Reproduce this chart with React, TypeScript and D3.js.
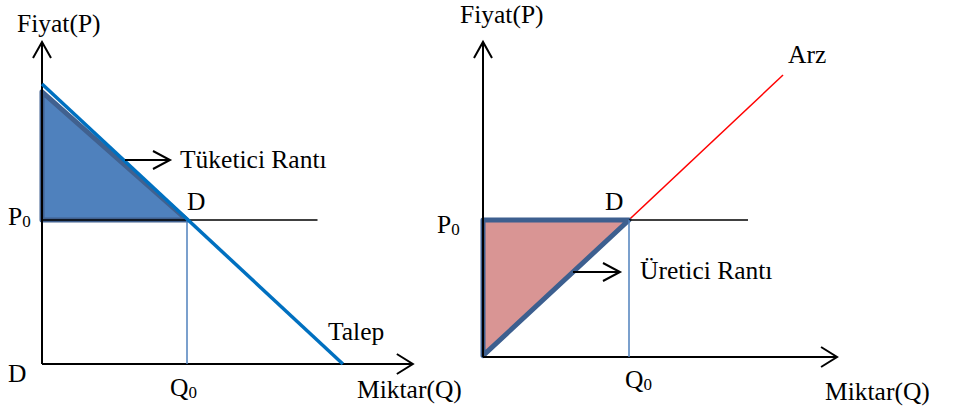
import React from "react";
import * as d3 from "d3";

// ---- Data (abstract units: price P, quantity Q) ----
const equilibrium = { q: 4, p: 5 }; // Q0, P0
// left panel: demand curve (Talep)
const demandLine = [
  { q: 0, p: 9.72 },
  { q: 8.3, p: 0 },
];
const consumerSurplus = [
  { q: 0, p: 9.45 },
  { q: 4, p: 5 },
  { q: 0, p: 5 },
];
const leftAxisMax = { q: 10.23, p: 11.18 };
const leftPriceLineEnd = 7.6;

// right panel: supply curve (Arz)
const supplyLine = [
  { q: 0, p: 0 },
  { q: 8.22, p: 10.29 },
];
const producerSurplus = [
  { q: 0, p: 5 },
  { q: 4, p: 5 },
  { q: 0, p: 0.05 },
];
const rightAxisMax = { q: 9.7, p: 11.5 };
const rightPriceLineEnd = 7.26;

const labels = {
  price: "Fiyat(P)",
  quantity: "Miktar(Q)",
  demand: "Talep",
  supply: "Arz",
  consumer: "Tüketici Rantı",
  producer: "Üretici Rantı",
  point: "D",
};

const FONT = "'Liberation Serif', 'Times New Roman', serif";
const FS = 25.5;

function Sub({ x, y, main, sub, anchor = "start" }: any) {
  return (
    <text x={x} y={y} fontFamily={FONT} fontSize={FS} textAnchor={anchor} fill="#000">
      {main}
      <tspan fontSize={17} dy={2}>
        {sub}
      </tspan>
    </text>
  );
}

function Txt({ x, y, children, anchor = "start" }: any) {
  return (
    <text x={x} y={y} fontFamily={FONT} fontSize={FS} textAnchor={anchor} fill="#000">
      {children}
    </text>
  );
}

export default function App() {
  // Left scales
  const lx = d3.scaleLinear().domain([0, 10]).range([42, 404.5]);
  const ly = d3.scaleLinear().domain([0, 10]).range([364, 76]);
  // Right scales
  const rx = d3.scaleLinear().domain([0, 10]).range([483, 848]);
  const ry = d3.scaleLinear().domain([0, 10]).range([357, 83]);

  const lLine = d3
    .line<{ q: number; p: number }>()
    .x((d) => lx(d.q))
    .y((d) => ly(d.p));
  const rLine = d3
    .line<{ q: number; p: number }>()
    .x((d) => rx(d.q))
    .y((d) => ry(d.p));

  const arrowUp = (x: number, y: number) =>
    `M${x - 9},${y + 16} L${x},${y} L${x + 9},${y + 16}`;
  const arrowRight = (x: number, y: number) =>
    `M${x - 16},${y - 10} L${x},${y} L${x - 16},${y + 10}`;
  const smallArrow = (x1: number, x2: number, y: number) =>
    `M${x1},${y} L${x2},${y} M${x2 - 17},${y - 9} L${x2},${y} L${x2 - 17},${y + 9}`;

  const lq0 = lx(equilibrium.q);
  const lp0 = ly(equilibrium.p);
  const rq0 = rx(equilibrium.q);
  const rp0 = ry(equilibrium.p);

  return (
    <svg
      width={970}
      height={412}
      style={{ position: "absolute", left: 0, top: 0, background: "#fff" }}
    >
      {/* ---------- LEFT PANEL ---------- */}
      <path
        d={lLine(consumerSurplus as any) + "Z"}
        fill="#4F81BD"
        stroke="#41618F"
        strokeWidth={5}
        strokeLinejoin="round"
      />
      {/* axes */}
      <line x1={lx(0)} y1={ly(0)} x2={lx(0)} y2={ly(leftAxisMax.p)} stroke="#000" strokeWidth={2} />
      <path d={arrowUp(lx(0), ly(leftAxisMax.p))} fill="none" stroke="#000" strokeWidth={2} />
      <line x1={lx(0)} y1={ly(0)} x2={lx(leftAxisMax.q)} y2={ly(0)} stroke="#000" strokeWidth={2} />
      <path d={arrowRight(lx(leftAxisMax.q), ly(0))} fill="none" stroke="#000" strokeWidth={2} />
      {/* P0 line */}
      <line x1={lx(0)} y1={lp0} x2={lx(leftPriceLineEnd)} y2={lp0} stroke="#000" strokeWidth={1.5} />
      {/* Q0 line */}
      <line x1={lq0} y1={lp0} x2={lq0} y2={ly(0)} stroke="#4F81BD" strokeWidth={1.5} />
      {/* demand */}
      <path d={lLine(demandLine as any) || ""} fill="none" stroke="#0070C0" strokeWidth={3.5} />
      <path d={smallArrow(125, 170, 160)} fill="none" stroke="#000" strokeWidth={2} />

      <Txt x={17} y={32}>{labels.price}</Txt>
      <Txt x={180} y={168}>{labels.consumer}</Txt>
      <Txt x={187} y={210}>{labels.point}</Txt>
      <Sub x={8} y={225} main="P" sub="0" />
      <Txt x={8} y={382}>{labels.point}</Txt>
      <Sub x={170} y={396} main="Q" sub="0" />
      <Txt x={328} y={340}>{labels.demand}</Txt>
      <Txt x={357} y={398}>{labels.quantity}</Txt>

      {/* ---------- RIGHT PANEL ---------- */}
      <path d={rLine(supplyLine as any) || ""} fill="none" stroke="#FF0000" strokeWidth={1.5} />
      <path
        d={rLine(producerSurplus as any) + "Z"}
        fill="#D99594"
        stroke="#3D5F8F"
        strokeWidth={5}
        strokeLinejoin="round"
      />
      <line x1={rx(0)} y1={ry(0)} x2={rx(0)} y2={ry(rightAxisMax.p)} stroke="#000" strokeWidth={2} />
      <path d={arrowUp(rx(0), ry(rightAxisMax.p))} fill="none" stroke="#000" strokeWidth={2} />
      <line x1={rx(0)} y1={ry(0)} x2={rx(rightAxisMax.q)} y2={ry(0)} stroke="#000" strokeWidth={2} />
      <path d={arrowRight(rx(rightAxisMax.q), ry(0))} fill="none" stroke="#000" strokeWidth={2} />
      <line x1={rq0} y1={rp0} x2={rx(rightPriceLineEnd)} y2={rp0} stroke="#000" strokeWidth={1.5} />
      <line x1={rq0} y1={rp0} x2={rq0} y2={ry(0)} stroke="#4F81BD" strokeWidth={1.5} />
      <path d={smallArrow(573, 620, 272)} fill="none" stroke="#000" strokeWidth={2} />

      <Txt x={460} y={23}>{labels.price}</Txt>
      <Txt x={788} y={63}>{labels.supply}</Txt>
      <Txt x={605} y={210}>{labels.point}</Txt>
      <Sub x={437} y={233} main="P" sub="0" />
      <Txt x={640} y={279}>{labels.producer}</Txt>
      <Sub x={625} y={388} main="Q" sub="0" />
      <Txt x={825} y={400}>{labels.quantity}</Txt>
    </svg>
  );
}
